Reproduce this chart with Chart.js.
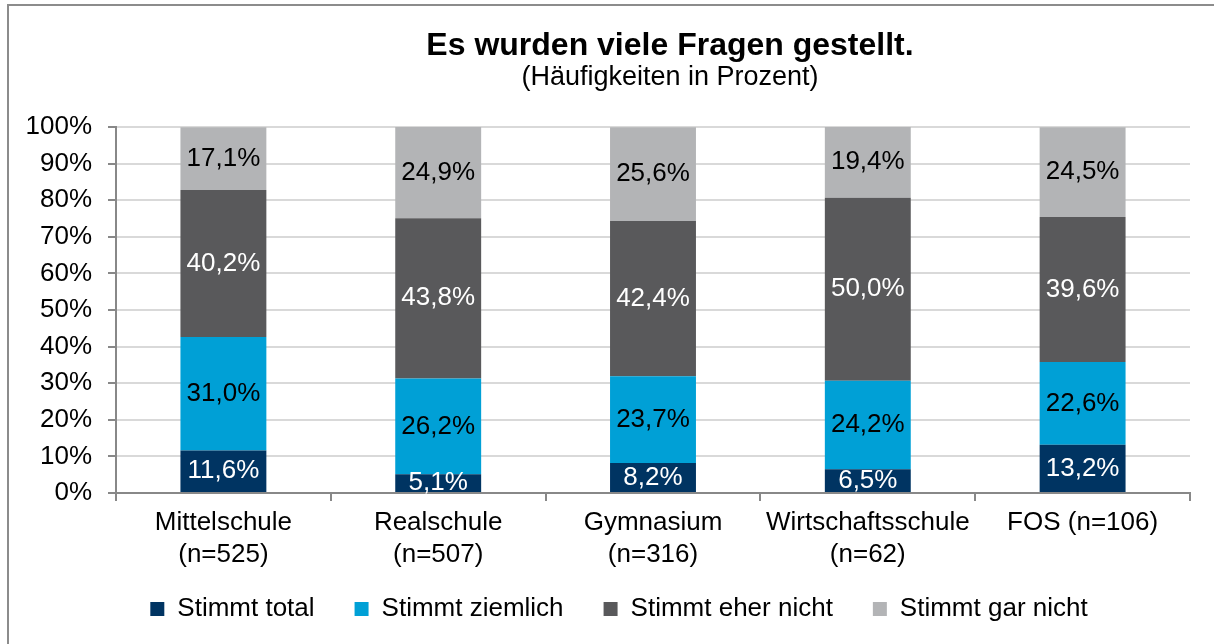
<!DOCTYPE html>
<html>
<head>
<meta charset="utf-8">
<script src="https://cdn.jsdelivr.net/npm/chart.js@4/dist/chart.umd.min.js"></script>
<style>
  body { margin: 0; background: #fff; }
  #wrap { width: 1214px; height: 644px; position: relative; }
</style>
</head>
<body>
<div id="wrap"><canvas id="StockChart"></canvas></div>
<script>
// Chart data.
const categories = [
    ['Mittelschule', '(n=525)'],
    ['Realschule', '(n=507)'],
    ['Gymnasium', '(n=316)'],
    ['Wirtschaftsschule', '(n=62)'],
    'FOS (n=106)'
];
const seriesNames = ['Stimmt total', 'Stimmt ziemlich', 'Stimmt eher nicht', 'Stimmt gar nicht'];
const stimmtTotal = [11.6, 5.1, 8.2, 6.5, 13.2];
const stimmtZiemlich = [31.0, 26.2, 23.7, 24.2, 22.6];
const stimmtEherNicht = [40.2, 43.8, 42.4, 50.0, 39.6];
const stimmtGarNicht = [17.1, 24.9, 25.6, 19.4, 24.5];
const yTickValues = [0, 10, 20, 30, 40, 50, 60, 70, 80, 90, 100];

const titleText = 'Es wurden viele Fragen gestellt.';
const subtitleText = '(Häufigkeiten in Prozent)';

const colors = ['#003462', '#00a0d6', '#59595b', '#b3b4b6'];
const labelColors = ['#ffffff', '#000000', '#ffffff', '#000000'];
const FONT = '"Liberation Sans", Arial, Helvetica, sans-serif';

// Format 11.6 -> "11,6%"
function fmtPct(v) {
    return v.toFixed(1).replace('.', ',') + '%';
}

// Title, subtitle and frame lines
const decorPlugin = {
    id: 'decor',
    afterLayout(chart) {
        // let the two-line x labels draw below the (short) x axis box
        chart.scales.x.bottom = chart.height;
        // legend sits a bit right of the canvas centre in the original
        chart.legend.left += 20;
        chart.legend.right += 20;
    },
    beforeDraw(chart) {
        const ctx = chart.ctx;
        ctx.save();
        ctx.strokeStyle = '#8c8c8c';
        ctx.lineWidth = 2;
        ctx.beginPath();
        ctx.moveTo(8, chart.height);
        ctx.lineTo(8, 5);
        ctx.lineTo(chart.width, 5);
        ctx.stroke();
        ctx.restore();
    },
    afterDraw(chart) {
        const ctx = chart.ctx;
        ctx.save();
        ctx.fillStyle = '#000';
        ctx.textAlign = 'center';
        ctx.textBaseline = 'middle';
        ctx.font = 'bold 32px ' + FONT;
        ctx.fillText(titleText, 670, 46);
        ctx.font = '27px ' + FONT;
        ctx.fillText(subtitleText, 670, 78);
        ctx.restore();
    }
};

// Value labels in the middle of each segment
const segmentLabels = {
    id: 'segmentLabels',
    afterDatasetsDraw(chart) {
        const ctx = chart.ctx;
        ctx.save();
        ctx.font = '26px ' + FONT;
        ctx.textAlign = 'center';
        ctx.textBaseline = 'middle';
        chart.data.datasets.forEach((ds, i) => {
            const meta = chart.getDatasetMeta(i);
            meta.data.forEach((bar, j) => {
                const p = bar.getProps(['x', 'y', 'base'], true);
                ctx.fillStyle = labelColors[i];
                ctx.fillText(fmtPct(ds.data[j]), p.x, (p.y + p.base) / 2);
            });
        });
        ctx.restore();
    }
};

const seriesValues = [stimmtTotal, stimmtZiemlich, stimmtEherNicht, stimmtGarNicht];

const ctx = document.getElementById('StockChart').getContext('2d');
window.myChart = new Chart(ctx, {
    type: 'bar',
    data: {
        labels: categories,
        datasets: seriesValues.map((vals, i) => ({
            label: seriesNames[i],
            data: vals,
            backgroundColor: colors[i],
            borderWidth: 0,
            barPercentage: 0.4,
            categoryPercentage: 1.0
        }))
    },
    options: {
        responsive: true,
        maintainAspectRatio: false,
        animation: false,
        layout: {
            padding: { left: 8, right: 24, top: 127, bottom: 12 }
        },
        plugins: {
            title: { display: false },
            tooltip: { enabled: false },
            legend: {
                position: 'bottom',
                labels: {
                    color: '#000',
                    font: { family: FONT, size: 26 },
                    boxWidth: 14,
                    boxHeight: 14,
                    padding: 40
                }
            }
        },
        scales: {
            x: {
                stacked: true,
                afterFit: (scale) => { scale.height = 63; },
                border: { color: '#888', width: 2 },
                grid: {
                    offset: true,
                    drawOnChartArea: false,
                    drawTicks: true,
                    tickLength: 8,
                    color: '#888',
                    lineWidth: 2
                },
                ticks: {
                    color: '#000',
                    font: { family: FONT, size: 26, lineHeight: 1.23 },
                    padding: 6,
                    maxRotation: 0,
                    autoSkip: false
                }
            },
            y: {
                stacked: true,
                min: 0,
                max: 100,
                afterFit: (scale) => { scale.width = 108; },
                afterBuildTicks: (scale) => {
                    scale.ticks = yTickValues.map(v => ({ value: v }));
                },
                border: { color: '#888', width: 2 },
                grid: {
                    color: '#d9d9d9',
                    lineWidth: 2,
                    tickColor: '#888',
                    tickLength: 8
                },
                ticks: {
                    color: '#000',
                    font: { family: FONT, size: 26 },
                    padding: 16,
                    callback: (v) => v + '%'
                }
            }
        }
    },
    plugins: [decorPlugin, segmentLabels]
});
</script>
</body>
</html>
